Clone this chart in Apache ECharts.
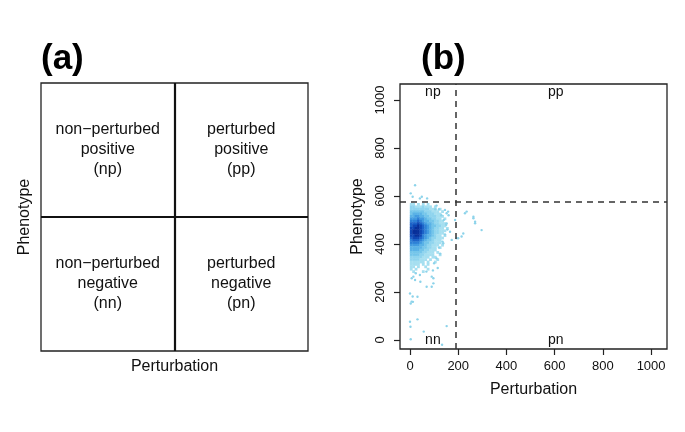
<!DOCTYPE html>
<html>
<head>
<meta charset="utf-8">
<script src="https://cdn.jsdelivr.net/npm/echarts@6/dist/echarts.min.js"></script>
<style>
html,body{margin:0;padding:0;background:#fff;}
#chart{width:685px;height:432px;}
</style>
</head>
<body>
<div id="chart"></div>
<script>
// ---------- data ----------
// Panel (a): quadrant labels (x, y in quadrant units)
const quadrantPositions = [[0.5, 1.5], [1.5, 1.5], [0.5, 0.5], [1.5, 0.5]];
const quadrantLabels = [
  'non\u2212perturbed\npositive\n(np)',
  'perturbed\npositive\n(pp)',
  'non\u2212perturbed\nnegative\n(nn)',
  'perturbed\nnegative\n(pn)'
];
// Panel (b): tick values
const tickValues = [0, 200, 400, 600, 800, 1000];
// thresholds
const perturbationCut = 190;
const phenotypeCut = 575;
// region labels
const regionLabels = ['np', 'pp', 'nn', 'pn'];
const regionPositions = [[95, 1032], [605, 1032], [95, 0], [605, 0]];
// density (smoothed scatter):
// columns: perturbation bins of 10 starting at 0; rows: phenotype bins of 10, top row centred at 575
const densityXStart = 5;
const densityYStart = 575;
const densityStep = 10;
const densityRows = [
  '0000000000000000',
  '1101010100000000',
  '2211121110100000',
  '2222222211101000',
  '3333332221110100',
  '3444433222111000',
  '4455443322211100',
  '5556554332211010',
  '6667654433221100',
  '7778765443221110',
  '7889876543322110',
  '8899876543221101',
  '8999876543221110',
  '8999876543221100',
  '8899865443211010',
  '7888765432211100',
  '6777654332111000',
  '6666543322111000',
  '5555443221110100',
  '4444433221101000',
  '4444332211100000',
  '3333322111010000',
  '3333221111001000',
  '2222211101100000',
  '2222111010010000',
  '1111110100100000',
  '1111010100000000',
  '1101001000000000',
  '1010000100000000',
  '0100010000000000'
];
// isolated points outside the dense cloud
const outlierPoints = [
  [21,645],[3,611],[11,597],[49,597],[71,590],[41,590],
  [145,542],[152,528],[158,535],[228,528],[235,535],[263,514],[263,507],[270,493],[270,486],[297,458],
  [187,500],[152,486],[166,451],[173,417],[138,403],[193,424],[200,424],[214,431],[221,444],
  [110,560],[120,545],[130,520],[140,500],[150,480],[155,460],[145,440],[135,410],[120,385],
  [125,360],[110,340],[100,320],[115,300],[95,290],[160,520],[105,545],
  [14,264],[7,257],[21,250],[41,271],[97,257],[97,236],[69,222],[90,222],[90,264],[68,285],[43,243],[24,278],
  [0,194],[11,181],[7,160],[3,152],[12,159],[31,180],
  [0,76],[2,55],[31,86],[57,35],[152,58],[133,-20],[3,3]
];

// ---------- build ----------
const palette = ['#a6dff0','#8fd4ee','#74c5ea','#5ab2e6','#429be0','#2d80d6','#1c63c8','#0f47b4','#08309a'];
const densityData = [];
densityRows.forEach((row, j) => {
  for (let i = 0; i < row.length; i++) {
    const lv = +row[i];
    if (lv > 0) {
      densityData.push({
        value: [densityXStart + i * densityStep, densityYStart - j * densityStep],
        itemStyle: { color: palette[lv - 1] }
      });
    }
  }
});

const FONT = 'Liberation Sans, Arial, Helvetica, sans-serif';
const chart = echarts.init(document.getElementById('chart'), null, { renderer: 'canvas' });

chart.setOption({
  animation: false,
  backgroundColor: '#fff',
  title: [
    { text: '(a)', left: 36, top: 37, textStyle: { fontFamily: FONT, fontSize: 35, fontWeight: 'bold', color: '#000' } },
    { text: '(b)', left: 416, top: 37, textStyle: { fontFamily: FONT, fontSize: 35, fontWeight: 'bold', color: '#000' } }
  ],
  grid: [
    { left: 41, top: 83, width: 267, height: 268, show: true, borderColor: '#222', borderWidth: 1.3, backgroundColor: 'transparent' },
    { left: 400, top: 84, width: 267, height: 265, show: true, borderColor: '#222', borderWidth: 1.3, backgroundColor: 'transparent' }
  ],
  xAxis: [
    {
      gridIndex: 0, type: 'value', min: 0, max: 2,
      name: 'Perturbation', nameLocation: 'middle', nameGap: 8,
      nameTextStyle: { fontFamily: FONT, fontSize: 16, color: '#111', verticalAlign: 'top' },
      axisLine: { show: false, onZero: false }, axisTick: { show: false }, axisLabel: { show: false }, splitLine: { show: false }
    },
    {
      gridIndex: 1, type: 'value', min: -41.5, max: 1066,
      name: 'Perturbation', nameLocation: 'middle', nameGap: 33,
      nameTextStyle: { fontFamily: FONT, fontSize: 16, color: '#111', verticalAlign: 'top' },
      axisLine: { show: false, onZero: false },
      axisTick: { show: true, inside: false, length: 6, customValues: tickValues, lineStyle: { color: '#222', width: 1.2 } },
      axisLabel: { show: true, customValues: tickValues, margin: 11, formatter: v => String(v), fontFamily: FONT, fontSize: 13, color: '#111' },
      splitLine: { show: false }
    }
  ],
  yAxis: [
    {
      gridIndex: 0, type: 'value', min: 0, max: 2,
      name: 'Phenotype', nameLocation: 'middle', nameGap: 8,
      nameTextStyle: { fontFamily: FONT, fontSize: 16, color: '#111', verticalAlign: 'bottom' },
      axisLine: { show: false, onZero: false }, axisTick: { show: false }, axisLabel: { show: false }, splitLine: { show: false }
    },
    {
      gridIndex: 1, type: 'value', min: -37.5, max: 1066.7,
      name: 'Phenotype', nameLocation: 'middle', nameGap: 34,
      nameTextStyle: { fontFamily: FONT, fontSize: 16, color: '#111', verticalAlign: 'bottom' },
      axisLine: { show: false, onZero: false },
      axisTick: { show: true, inside: false, length: 6, customValues: tickValues, lineStyle: { color: '#222', width: 1.2 } },
      axisLabel: { show: true, customValues: tickValues, rotate: 90, margin: 13, formatter: v => String(v), fontFamily: FONT, fontSize: 13, color: '#111' },
      splitLine: { show: false }
    }
  ],
  series: [
    {
      type: 'scatter', xAxisIndex: 0, yAxisIndex: 0,
      data: quadrantPositions.map((p, i) => ({ value: p, name: quadrantLabels[i] })),
      symbolSize: 0,
      itemStyle: { opacity: 1 },
      label: { show: true, position: 'inside', formatter: p => p.name, fontFamily: FONT, fontSize: 16, lineHeight: 20, color: '#111', textBorderWidth: 0, align: 'center', verticalAlign: 'middle' },
      markLine: {
        silent: true, symbol: 'none', label: { show: false },
        lineStyle: { color: '#111', width: 2.2, type: 'solid' },
        data: [{ xAxis: 1 }, { yAxis: 1 }]
      }
    },
    {
      type: 'scatter', xAxisIndex: 1, yAxisIndex: 1,
      data: densityData,
      symbol: 'rect', symbolSize: [2.8, 2.8],
      itemStyle: { opacity: 1 },
      z: 2
    },
    {
      type: 'scatter', xAxisIndex: 1, yAxisIndex: 1,
      data: outlierPoints,
      symbol: 'circle', symbolSize: 2.4,
      itemStyle: { color: '#8cd3ea', opacity: 1 },
      z: 2
    },
    {
      type: 'scatter', xAxisIndex: 1, yAxisIndex: 1,
      data: regionPositions.map((p, i) => ({ value: p, name: regionLabels[i] })),
      symbolSize: 0,
      itemStyle: { opacity: 1 },
      label: { show: true, position: 'inside', formatter: p => p.name, fontFamily: FONT, fontSize: 14, color: '#111', textBorderWidth: 0 },
      markLine: {
        silent: true, symbol: 'none', label: { show: false },
        lineStyle: { color: '#333', width: 1.5, type: [6, 5] },
        data: [{ xAxis: perturbationCut }, { yAxis: phenotypeCut }]
      },
      z: 3
    }
  ]
});
</script>
</body>
</html>
